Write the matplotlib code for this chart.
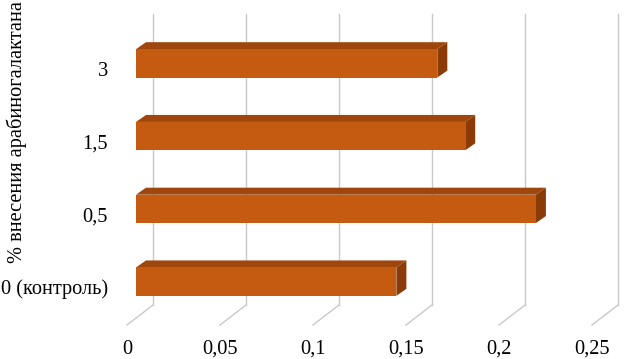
import matplotlib
matplotlib.use('Agg')
import matplotlib.pyplot as plt
from matplotlib.patches import Polygon

# данные
categories = ['0 (контроль)', '0,5', '1,5', '3']
values = [0.140, 0.215, 0.177, 0.162]
x_ticks = [0, 0.05, 0.1, 0.15, 0.2, 0.25]
x_tick_labels = ['0', '0,05', '0,1', '0,15', '0,2', '0,25']
axis_title = '% внесения арабиногалактана'

front_color = '#C55A11'
top_color = '#9E460C'
side_color = '#8A3B08'
grid_color = '#C9C9C9'

plt.rcParams['font.family'] = ['Liberation Serif', 'DejaVu Serif']

fig = plt.figure(figsize=(6.27, 3.59), dpi=100)
W, H = 627, 359
# плоскость передних граней столбцов
ax_left, ax_right, ax_top, ax_bottom = 136, 601, 27, 318
ax = fig.add_axes([ax_left / W, 1 - ax_bottom / H,
                   (ax_right - ax_left) / W, (ax_bottom - ax_top) / H])
ax.set_xlim(0, 0.25)
ax.set_ylim(-0.5, 3.5)
ax.axis('off')

# пиксели -> единицы данных
px_x = 0.25 / (ax_right - ax_left)
px_y = 4.0 / (ax_bottom - ax_top)

# смещения (глубина) в пикселях
back_dx, back_dy = 17 * px_x, 13 * px_y
front_dx, front_dy = -9 * px_x, -7 * px_y
bar_dx, bar_dy = 10 * px_x, 7 * px_y

# задняя стенка: вертикальные линии сетки и диагонали пола
for t in x_ticks:
    ax.plot([t + back_dx, t + back_dx], [-0.5 + back_dy, 3.5 + back_dy],
            color=grid_color, linewidth=1.0, clip_on=False, zorder=1)
    ax.plot([t + back_dx, t + front_dx], [-0.5 + back_dy, -0.5 + front_dy],
            color=grid_color, linewidth=1.0, clip_on=False, zorder=1)

# столбцы
ypos = list(range(len(categories)))
h = 0.39
ax.barh(ypos, values, height=h, color=front_color, edgecolor='none', zorder=3)
for y, v in zip(ypos, values):
    top = [(0, y + h / 2), (v, y + h / 2),
           (v + bar_dx, y + h / 2 + bar_dy), (bar_dx, y + h / 2 + bar_dy)]
    side = [(v, y - h / 2), (v, y + h / 2),
            (v + bar_dx, y + h / 2 + bar_dy), (v + bar_dx, y - h / 2 + bar_dy)]
    ax.add_patch(Polygon(top, closed=True, facecolor=top_color,
                         edgecolor='none', zorder=2, clip_on=False))
    ax.add_patch(Polygon(side, closed=True, facecolor=side_color,
                         edgecolor='none', zorder=2, clip_on=False))

fs = 14.7

# подписи оси X
label_y = -0.5 - (349 - ax_bottom) * px_y
for t, lab in zip(x_ticks, x_tick_labels):
    ax.text(t + front_dx, label_y, lab, ha='center', va='center',
            fontsize=fs, clip_on=False)

# подписи категорий
for y, lab in zip(ypos, categories):
    ax.text(-28 * px_x, y - 8 * px_y, lab, ha='right', va='center',
            fontsize=fs, clip_on=False)

fig.text(17 / W, 1 - 132 / H, axis_title, rotation=90,
         ha='center', va='center', fontsize=fs)

fig.savefig('out.png', dpi=100)
